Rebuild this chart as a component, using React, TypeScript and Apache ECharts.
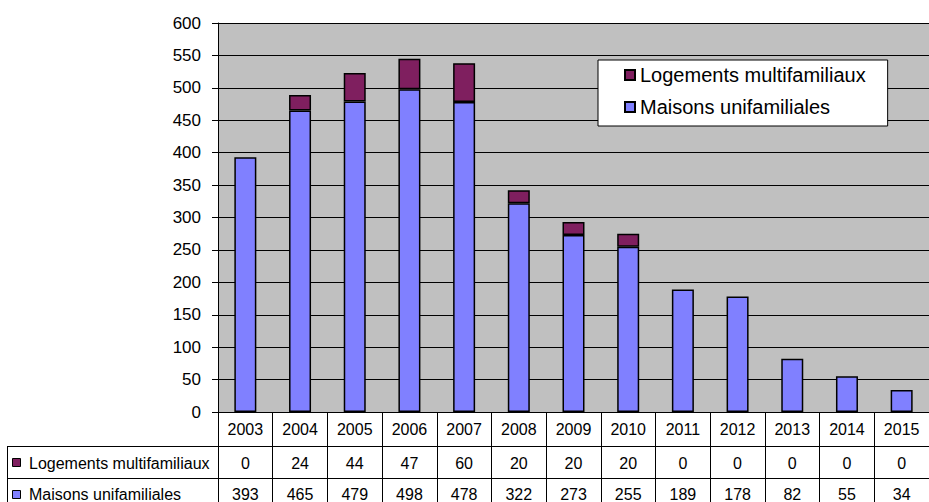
import React, { useEffect, useRef } from "react";
import * as echarts from "echarts";

const years = ["2003", "2004", "2005", "2006", "2007", "2008", "2009", "2010", "2011", "2012", "2013", "2014", "2015"];
const multifamiliaux = [0, 24, 44, 47, 60, 20, 20, 20, 0, 0, 0, 0, 0];
const unifamiliales = [393, 465, 479, 498, 478, 322, 273, 255, 189, 178, 82, 55, 34];
const seriesNames = ["Logements multifamiliaux", "Maisons unifamiliales"];
const yTicks = { min: 0, max: 600, interval: 50 };

const PURPLE = "#7f1f5f";
const BLUE = "#8080ff";
const FONT = "'Liberation Sans', Arial, sans-serif";

export default function App() {
  const ref = useRef<HTMLDivElement>(null);
  useEffect(() => {
    if (!ref.current) return;
    const chart = echarts.init(ref.current, undefined, { renderer: "svg" });
    const gridLeft = 218;
    const gridTop = 23;
    const gridHeight = 389;
    const catW = 55.4;
    const bottom = gridTop + gridHeight;
    const tableAxis = (margin: number, fmt: (v: string, i: number) => string) => ({
      type: "category",
      gridIndex: 0,
      position: "bottom",
      data: years,
      axisLine: { show: false },
      axisTick: { show: false },
      splitLine: { show: false },
      axisLabel: {
        interval: 0,
        margin,
        verticalAlign: "middle",
        fontSize: 16,
        fontFamily: FONT,
        color: "#000",
        formatter: fmt,
      },
    });
    const barData = (arr: number[]) =>
      arr.map((v) => (v === 0 ? { value: v, itemStyle: { borderWidth: 0 } } : v));
    chart.setOption({
      animation: false,
      textStyle: { fontFamily: FONT },
      grid: {
        left: gridLeft,
        top: gridTop,
        width: catW * years.length,
        height: gridHeight,
        show: true,
        backgroundColor: "#c0c0c0",
        borderWidth: 0,
      },
      legend: {
        orient: "vertical",
        left: 598,
        top: 60,
        data: seriesNames,
        backgroundColor: "#fff",
        borderColor: "#000",
        borderWidth: 1,
        padding: [5, 22, 9, 26],
        itemWidth: 10,
        itemHeight: 10,
        itemGap: 12,
        icon: "rect",
        textStyle: { fontSize: 20, color: "#000", fontFamily: FONT },
      },
      xAxis: [
        {
          type: "category",
          position: "bottom",
          data: years,
          axisLine: { show: true, lineStyle: { color: "#000", width: 1 } },
          axisTick: { show: true, interval: 0, length: 90, lineStyle: { color: "#000", width: 1 } },
          axisLabel: {
            interval: 0,
            margin: 17,
            verticalAlign: "middle",
            fontSize: 16,
            fontFamily: FONT,
            color: "#000",
          },
          z: 5,
        },
        tableAxis(51, (_v: string, i: number) => String(multifamiliaux[i])),
        tableAxis(82, (_v: string, i: number) => String(unifamiliales[i])),
      ],
      yAxis: {
        type: "value",
        min: yTicks.min,
        max: yTicks.max,
        interval: yTicks.interval,
        axisLine: { show: true, lineStyle: { color: "#000", width: 1 } },
        axisTick: { show: true, length: 6, lineStyle: { color: "#000" } },
        splitLine: { show: true, lineStyle: { color: "#000", width: 1 } },
        axisLabel: { margin: 17, fontSize: 17, color: "#000", fontFamily: FONT },
      },
      series: [
        {
          name: seriesNames[1],
          type: "bar",
          stack: "total",
          barWidth: 22,
          data: barData(unifamiliales),
          itemStyle: { color: BLUE, borderColor: "#000", borderWidth: 1.5 },
        },
        {
          name: seriesNames[0],
          type: "bar",
          stack: "total",
          barWidth: 22,
          data: barData(multifamiliaux),
          itemStyle: { color: PURPLE, borderColor: "#000", borderWidth: 1.5 },
        },
      ],
      graphic: [
        { type: "line", shape: { x1: 7, y1: 446.5, x2: 929, y2: 446.5 }, style: { stroke: "#000", lineWidth: 1 } },
        { type: "line", shape: { x1: 7, y1: 478.5, x2: 929, y2: 478.5 }, style: { stroke: "#000", lineWidth: 1 } },
        { type: "line", shape: { x1: 7.5, y1: 446, x2: 7.5, y2: 502 }, style: { stroke: "#000", lineWidth: 1 } },
        { type: "line", shape: { x1: gridLeft + 0.5, y1: bottom, x2: gridLeft + 0.5, y2: 502 }, style: { stroke: "#000", lineWidth: 1 } },
        { type: "rect", shape: { x: 12.5, y: 458.5, width: 8, height: 8 }, style: { fill: PURPLE, stroke: "#000", lineWidth: 1 } },
        { type: "text", x: 29, y: 463, style: { text: seriesNames[0], fontSize: 16, fontFamily: FONT, fill: "#000", verticalAlign: "middle" } },
        { type: "rect", shape: { x: 12.5, y: 490.5, width: 8, height: 8 }, style: { fill: BLUE, stroke: "#000", lineWidth: 1 } },
        { type: "text", x: 29, y: 494, style: { text: seriesNames[1], fontSize: 16, fontFamily: FONT, fill: "#000", verticalAlign: "middle" } },
      ],
    });
    return () => chart.dispose();
  }, []);
  return (
    <div
      ref={ref}
      style={{ position: "absolute", left: 0, top: 0, width: 929, height: 502, overflow: "hidden", background: "#fff" }}
    />
  );
}
